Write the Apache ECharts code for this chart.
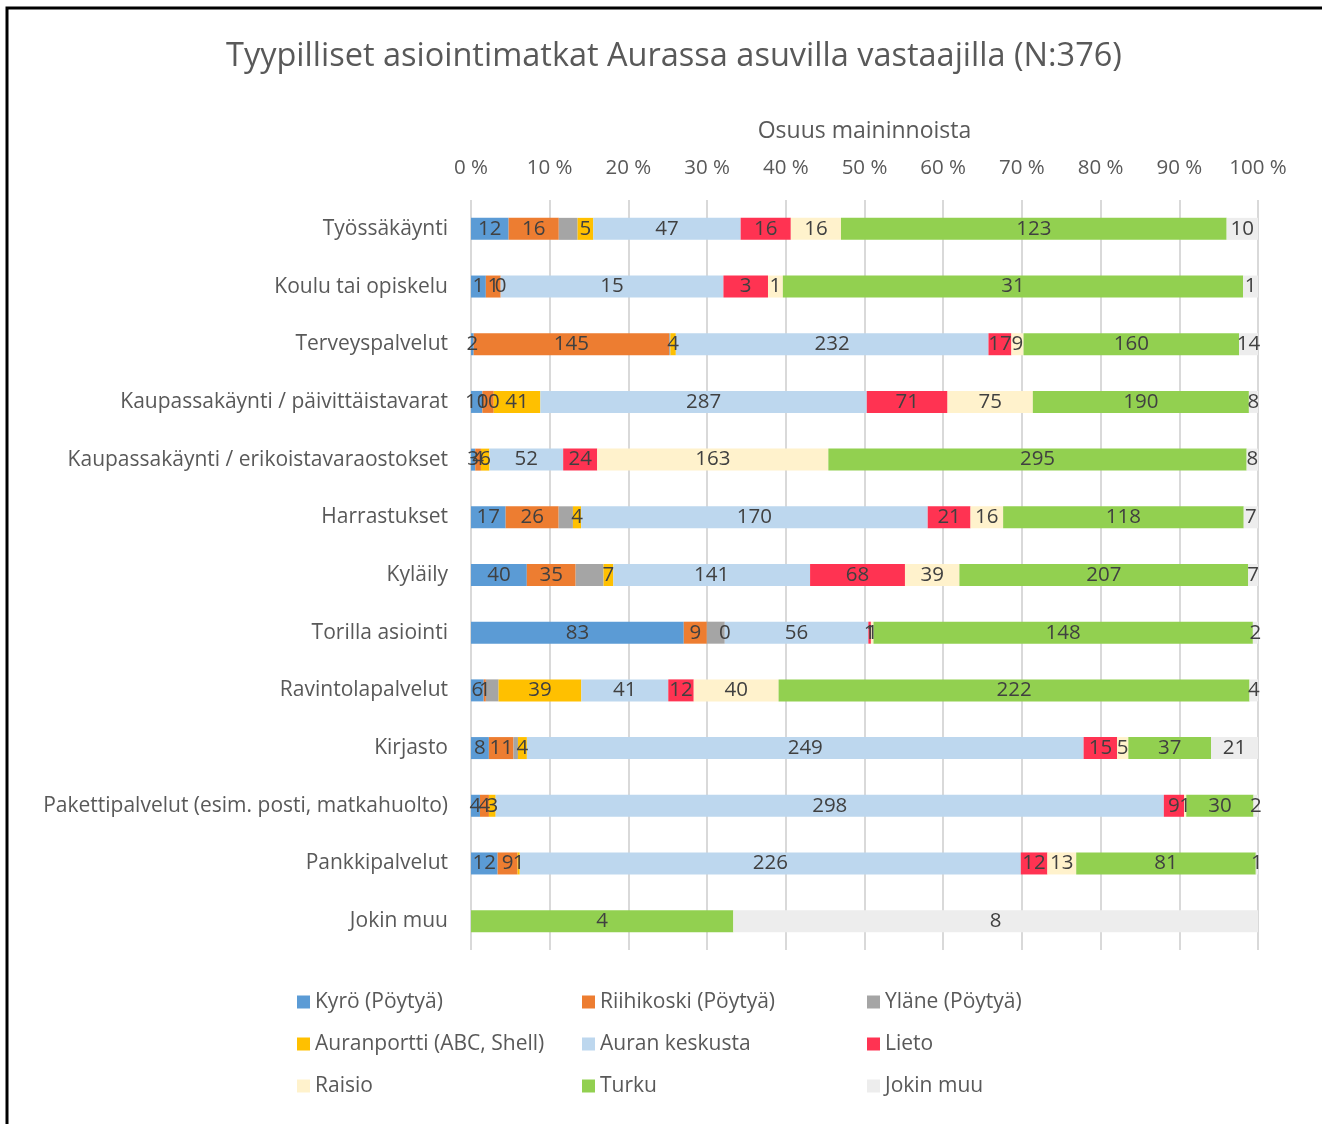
<!DOCTYPE html>
<html>
<head>
<meta charset="utf-8">
<script src="https://cdn.jsdelivr.net/npm/echarts@6/dist/echarts.min.js"></script>
<style>
  html, body { margin: 0; padding: 0; background: #fff; }
  #chart { width: 1322px; height: 1124px; }
</style>
</head>
<body>
<div id="chart"></div>
<script>
// categories, top to bottom
const categories = [
  'Työssäkäynti', 'Koulu tai opiskelu', 'Terveyspalvelut',
  'Kaupassakäynti / päivittäistavarat', 'Kaupassakäynti / erikoistavaraostokset',
  'Harrastukset', 'Kyläily', 'Torilla asiointi', 'Ravintolapalvelut', 'Kirjasto',
  'Pakettipalvelut (esim. posti, matkahuolto)', 'Pankkipalvelut', 'Jokin muu'
];

const seriesNames = [
  'Kyrö (Pöytyä)', 'Riihikoski (Pöytyä)', 'Yläne (Pöytyä)',
  'Auranportti (ABC, Shell)', 'Auran keskusta', 'Lieto',
  'Raisio', 'Turku', 'Jokin muu'
];

// counts of mentions per destination
const kyro        = [12, 1, 2, 10, 3, 17, 40, 83, 6, 8, 4, 12, null];
const riihikoski  = [16, 1, 145, 10, 4, 26, 35, 9, 1, 11, 4, 9, null];
const ylane       = [6, 0, 1, 0, 0, 7, 20, 7, 6, 2, 0, 0, null];
const auranportti = [5, 0, 4, 41, 6, 4, 7, 0, 39, 4, 3, 1, null];
const keskusta    = [47, 15, 232, 287, 52, 170, 141, 56, 41, 249, 298, 226, null];
const lieto       = [16, 3, 17, 71, 24, 21, 68, 1, 12, 15, 9, 12, null];
const raisio      = [16, 1, 9, 75, 163, 16, 39, 1, 40, 5, 1, 13, null];
const turku       = [123, 31, 160, 190, 295, 118, 207, 148, 222, 37, 30, 81, 4];
const jokinMuu    = [10, 1, 14, 8, 8, 7, 7, 2, 4, 21, 2, 1, 8];

const xTicks = [0, 10, 20, 30, 40, 50, 60, 70, 80, 90, 100];

const rawSeries = [kyro, riihikoski, ylane, auranportti, keskusta, lieto, raisio, turku, jokinMuu];
const colors = ['#5B9BD5', '#ED7D31', '#A5A5A5', '#FFC000', '#BDD7EE', '#FF3352', '#FFF2CC', '#92D050', '#EDEDED'];

// totals per row -> 100 % stacked
const totals = categories.map((c, i) => rawSeries.reduce((s, arr) => s + (arr[i] || 0), 0));

const FONT = '"Open Sans", sans-serif';
const TEXT = '#595959';

const series = rawSeries.map((arr, si) => ({
  name: seriesNames[si],
  type: 'bar',
  stack: 'total',
  barWidth: 22,
  itemStyle: { color: colors[si] },
  label: {
    show: si !== 2, // Yläne has no data labels in the original
    position: 'inside',
    fontFamily: FONT,
    fontSize: 20.5,
    color: '#404040',
    formatter: p => arr[p.dataIndex]
  },
  emphasis: { disabled: true },
  data: arr.map((v, i) => v === null ? null : v / totals[i] * 100)
}));

function legendCol(names, left) {
  return {
    orient: 'vertical',
    left: left,
    top: 986,
    icon: 'rect',
    itemWidth: 13,
    itemHeight: 13,
    itemGap: 20,
    selectedMode: false,
    textStyle: { fontFamily: FONT, fontSize: 21, color: TEXT, lineHeight: 22 },
    data: names
  };
}

const chart = echarts.init(document.getElementById('chart'));
chart.setOption({
  animation: false,
  color: colors,
  title: {
    text: 'Tyypilliset asiointimatkat Aurassa asuvilla vastaajilla (N:376)',
    left: 221,
    top: 35,
    textStyle: { fontFamily: FONT, fontSize: 32.5, fontWeight: 'normal', color: TEXT }
  },
  legend: [
    legendCol([seriesNames[0], seriesNames[3], seriesNames[6]], 292),
    legendCol([seriesNames[1], seriesNames[4], seriesNames[7]], 577),
    legendCol([seriesNames[2], seriesNames[5], seriesNames[8]], 862)
  ],
  grid: { left: 471, right: 64, top: 200, bottom: 174 },
  xAxis: {
    type: 'value',
    position: 'top',
    min: xTicks[0],
    max: xTicks[xTicks.length - 1],
    interval: 10,
    name: 'Osuus maininnoista',
    nameLocation: 'middle',
    nameGap: 57,
    nameTextStyle: { fontFamily: FONT, fontSize: 23, color: TEXT },
    axisLine: { show: false },
    axisTick: { show: false },
    axisLabel: { fontFamily: FONT, fontSize: 20.5, color: TEXT, margin: 21, formatter: '{value} %' },
    splitLine: { lineStyle: { color: '#D9D9D9', width: 2 } }
  },
  yAxis: {
    type: 'category',
    inverse: true,
    data: categories,
    axisLine: { show: false },
    axisTick: { show: false },
    axisLabel: { fontFamily: FONT, fontSize: 21, color: TEXT, margin: 23 }
  },
  graphic: [{
    type: 'rect',
    shape: { x: 7, y: 8, width: 1400, height: 1200 },
    style: { fill: 'none', stroke: '#000', lineWidth: 3 }
  }],
  series: series
});
</script>
</body>
</html>
